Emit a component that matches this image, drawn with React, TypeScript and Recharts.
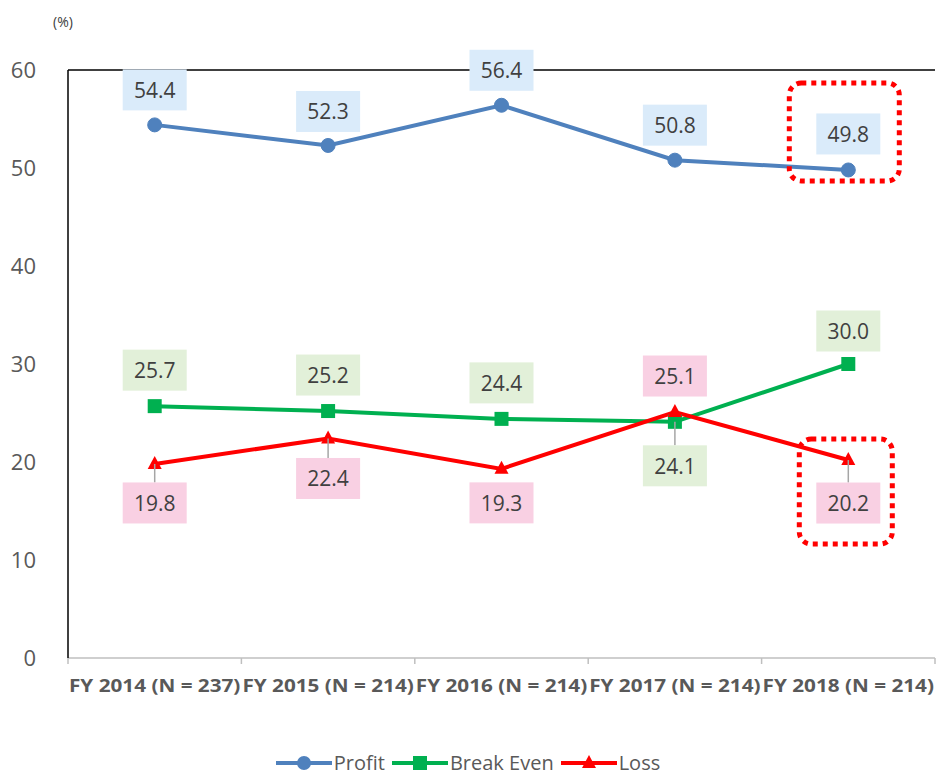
import React from "react";
import {
  LineChart, Line, XAxis, YAxis, ReferenceLine, LabelList,
} from "recharts";

const categories = [
  "FY 2014 (N = 237)",
  "FY 2015 (N = 214)",
  "FY 2016 (N = 214)",
  "FY 2017 (N = 214)",
  "FY 2018 (N = 214)",
];
const profit = [54.4, 52.3, 56.4, 50.8, 49.8];
const breakEven = [25.7, 25.2, 24.4, 24.1, 30.0];
const loss = [19.8, 22.4, 19.3, 25.1, 20.2];
const yTicks = [0, 10, 20, 30, 40, 50, 60];

// label box offsets from the point (box centre), px
const profitDy = [-35, -34, -35, -35, -36];
const breakEvenDy = [-36, -36, -36, 44, -33];
const lossDy = [39, 40, 34, -36, 43];

const BLUE = "#4F81BD";
const GREEN = "#00B050";
const RED = "#FF0000";
const TEXT = "#595959";
const FONT = "'Open Sans', 'Noto Sans', sans-serif";

const data = categories.map((cat, i) => ({
  cat, profit: profit[i], breakEven: breakEven[i], loss: loss[i],
}));

const W = 936;
const H = 776;
const LEFT = 68;
const RIGHT_M = 1;
const HALF_BAND = (W - LEFT - RIGHT_M) / categories.length / 2;

const makeLabel = (bg: string, dys: number[], highlight?: (x: number, y: number) => React.ReactNode) =>
  (props: any) => {
    const { x, y, value, index } = props;
    const dy = dys[index];
    const bw = 64, bh = 41;
    const cy = y + dy;
    const leader = Math.abs(dy) > 38;
    const edge = dy > 0 ? cy - bh / 2 : cy + bh / 2;
    return (
      <g>
        {leader && (
          <line x1={x} y1={y} x2={x} y2={edge} stroke="#A6A6A6" strokeWidth={1.5} />
        )}
        <rect x={x - bw / 2} y={cy - bh / 2} width={bw} height={bh} fill={bg} />
        <text x={x} y={cy + 8} textAnchor="middle" fontSize={21} fill="#404040" fontFamily={FONT}>
          {Number(value).toFixed(1)}
        </text>
        {index === categories.length - 1 && highlight ? highlight(x, y) : null}
      </g>
    );
  };

const dotted = (x: number, y: number, w: number, h: number) => (
  <rect x={x} y={y} width={w} height={h} rx={12} ry={12} fill="none"
    stroke={RED} strokeWidth={5} strokeDasharray="5 5" />
);

const CircleDot = (props: any) => {
  const { cx, cy } = props;
  return <circle cx={cx} cy={cy} r={7} fill={BLUE} stroke={BLUE} />;
};
const SquareDot = (props: any) => {
  const { cx, cy } = props;
  return <rect x={cx - 7} y={cy - 7} width={14} height={14} fill={GREEN} />;
};
const TriangleDot = (props: any) => {
  const { cx, cy } = props;
  return <path d={`M${cx},${cy - 8} L${cx + 7},${cy + 5} L${cx - 7},${cy + 5} Z`} fill={RED} />;
};

const XTick = (props: any) => {
  const { x, y, payload, index } = props;
  const last = index === categories.length - 1;
  return (
    <g>
      <line x1={x - HALF_BAND} y1={y} x2={x - HALF_BAND} y2={y + 6} stroke="#BFBFBF" strokeWidth={1.5} />
      {last && <line x1={x + HALF_BAND} y1={y} x2={x + HALF_BAND} y2={y + 6} stroke="#BFBFBF" strokeWidth={1.5} />}
      <text x={x} y={y + 34} textAnchor="middle" fontSize={17} fontWeight="bold" fill={TEXT}
        fontFamily={FONT} textLength={HALF_BAND * 2 - 2} lengthAdjust="spacingAndGlyphs">
        {payload.value}
      </text>
    </g>
  );
};

const legendItems = [
  { name: "Profit", color: BLUE, shape: "circle" },
  { name: "Break Even", color: GREEN, shape: "square" },
  { name: "Loss", color: RED, shape: "triangle" },
];

const LegendBox = () => (
  <div style={{ position: "absolute", left: 0, top: 751, width: W, display: "flex", justifyContent: "center",
    alignItems: "center", gap: 7, fontFamily: FONT, fontSize: 20, color: TEXT, lineHeight: "23px" }}>
    {legendItems.map(it => (
      <div key={it.name} style={{ display: "flex", alignItems: "center" }}>
        <svg width={56} height={18}>
          <line x1={0} y1={9} x2={56} y2={9} stroke={it.color} strokeWidth={4} />
          {it.shape === "circle" && <circle cx={28} cy={9} r={7} fill={it.color} />}
          {it.shape === "square" && <rect x={21} y={2} width={14} height={14} fill={it.color} />}
          {it.shape === "triangle" && <path d="M28,1 L35,14 L21,14 Z" fill={it.color} />}
        </svg>
        <span style={{ marginLeft: 2 }}>{it.name}</span>
      </div>
    ))}
  </div>
);

export default function App() {
  return (
    <div style={{ position: "absolute", left: 0, top: 0, width: W, height: H, background: "#fff", overflow: "hidden" }}>
      <div style={{ position: "absolute", left: 53, top: 12, fontSize: 14, color: "#404040", fontFamily: FONT }}>(%)</div>
      <LineChart width={W} height={H} data={data} margin={{ top: 70, right: RIGHT_M, left: 0, bottom: 78 }}>
        <XAxis dataKey="cat" padding={{ left: HALF_BAND, right: HALF_BAND }} axisLine={{ stroke: "#BFBFBF", strokeWidth: 1.5 }}
          tickLine={false} tickSize={0} tickMargin={0} tick={<XTick />} interval={0} height={40} />
        <YAxis domain={[0, 60]} ticks={yTicks} width={LEFT} axisLine={{ stroke: "#000", strokeWidth: 1.5 }}
          tickLine={false} tickSize={0} tickMargin={32}
          tick={{ fontSize: 22, fill: TEXT, fontFamily: FONT }} />
        <YAxis yAxisId="right" orientation="right" domain={[0, 60]} width={0} tick={false} tickLine={false}
          axisLine={{ stroke: "#000", strokeWidth: 1.5 }} />
        <ReferenceLine y={60} stroke="#000" strokeWidth={1.5} />
        <Line dataKey="profit" stroke={BLUE} strokeWidth={4} dot={<CircleDot />} activeDot={false} isAnimationActive={false}>
          <LabelList dataKey="profit" content={makeLabel("#DAEBFA", profitDy, (x, y) => dotted(x - 59, y - 87, 110, 98))} />
        </Line>
        <Line dataKey="breakEven" stroke={GREEN} strokeWidth={4} dot={<SquareDot />} activeDot={false} isAnimationActive={false}>
          <LabelList dataKey="breakEven" content={makeLabel("#E2F0D9", breakEvenDy)} />
        </Line>
        <Line dataKey="loss" stroke={RED} strokeWidth={4} dot={<TriangleDot />} activeDot={false} isAnimationActive={false}>
          <LabelList dataKey="loss" content={makeLabel("#F9D0E3", lossDy, (x, y) => dotted(x - 49, y - 21, 93, 105))} />
        </Line>
      </LineChart>
      <LegendBox />
    </div>
  );
}
